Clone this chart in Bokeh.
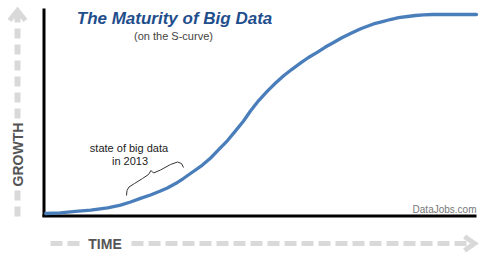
import math
from bokeh.plotting import figure
from bokeh.models import Range1d, Label
from bokeh.embed import file_html
from bokeh.resources import INLINE

# ---- data ----
time = [0.5, 3.9, 7.4, 10.9, 14.8, 17.8, 20.1, 22.4, 24.7, 27.0, 28.6, 30.5, 32.3, 34.6, 36.7,
        38.6, 40.4, 42.5, 44.3, 46.2, 47.8, 49.7, 51.7, 53.6, 55.4, 57.3, 59.4, 61.2, 63.3,
        65.1, 67.0, 68.8, 70.9, 73.4, 76.2, 78.3, 80.1, 82.0, 84.1, 85.9, 87.8, 89.8, 91.7, 100]
growth = [1.0, 1.3, 2.0, 2.7, 3.8, 5.2, 6.7, 8.5, 10.2, 12.2, 13.7, 15.9, 18.4, 21.9, 25.1,
          28.6, 32.6, 37.3, 42.0, 47.0, 52.0, 57.2, 61.9, 65.9, 69.4, 72.6, 75.9, 78.6, 81.3,
          83.8, 86.1, 88.3, 90.5, 93.0, 95.3, 96.5, 97.5, 98.4, 99.0, 99.5, 99.8, 100, 100, 100]

title = "The Maturity of Big Data"
subtitle = "(on the S-curve)"
note_lines = ["state of big data", "in 2013"]
x_label = "TIME"
y_label = "GROWTH"
credit = "DataJobs.com"

# ---- layout helpers (pixel -> data) ----
PXX, X0 = 4.33, 43.0
PXY, Y0 = 2.01, 215.0


def X(px):
    return (px - X0) / PXX


def Y(py):
    return (Y0 - py) / PXY


FONT = "Liberation Sans"

p = figure(width=489, height=258, x_range=Range1d(X(0), X(489)), y_range=Range1d(Y(258), Y(0)),
           output_backend="svg", toolbar_location=None, min_border=0)
p.xaxis.visible = False
p.yaxis.visible = False
p.grid.visible = False
p.outline_line_color = None
p.background_fill_color = "white"
p.border_fill_color = "white"

# gray dashed arrows
GRAY = "#d9d9d9"
p.line([X(17), X(17)], [Y(216), Y(190)], line_color=GRAY, line_width=6, line_dash="10 6")
p.line([X(17), X(17)], [Y(118), Y(22)], line_color=GRAY, line_width=6, line_dash="10 6")
p.line([X(9), X(17), X(25)], [Y(20), Y(10), Y(20)], line_color=GRAY, line_width=5, line_join="miter")
p.line([X(17), X(17)], [Y(22), Y(11)], line_color=GRAY, line_width=6)

p.line([X(50), X(80)], [Y(243), Y(243)], line_color=GRAY, line_width=5, line_dash="12 5")
p.line([X(131), X(468)], [Y(243), Y(243)], line_color=GRAY, line_width=5, line_dash="12 5")
p.line([X(464), X(474), X(464)], [Y(236), Y(243), Y(250)], line_color=GRAY, line_width=5, line_join="miter")

# axes lines
p.line([X(43.5), X(43.5)], [Y(8), Y(216.5)], line_color="black", line_width=3)
p.line([X(42), X(476)], [Y(215.5), Y(215.5)], line_color="black", line_width=3)

# S-curve
p.line(time, growth, line_color="#4a7ebb", line_width=3.3, line_join="round", line_cap="round")

# brace
bx = [126, 126.5, 128.5, 134, 142, 148, 150.5, 153, 160, 170, 177, 181, 183]
by = [195, 190, 186.5, 183, 178, 174, 170, 172.5, 169.5, 164, 161.5, 163, 167]
p.line([X(v) for v in bx], [Y(v) for v in by], line_color="#333333", line_width=1)

# texts
p.add_layout(Label(x=X(174), y=Y(18), text=title, text_font=FONT, text_font_size="17px",
                   text_font_style="bold italic", text_color="#1f4e8c",
                   text_align="center", text_baseline="middle"))
p.add_layout(Label(x=X(173), y=Y(35), text=subtitle, text_font=FONT, text_font_size="11px",
                   text_color="#444444", text_align="center", text_baseline="middle"))
p.add_layout(Label(x=X(128.5), y=Y(147), text=note_lines[0], text_font=FONT, text_font_size="11px",
                   text_color="#222222", text_align="center", text_baseline="middle"))
p.add_layout(Label(x=X(129.5), y=Y(160), text=note_lines[1], text_font=FONT, text_font_size="11px",
                   text_color="#222222", text_align="center", text_baseline="middle"))
p.add_layout(Label(x=X(104.5), y=Y(243), text=x_label, text_font=FONT, text_font_size="14px",
                   text_font_style="bold", text_color="#555555",
                   text_align="center", text_baseline="middle"))
p.add_layout(Label(x=X(17.5), y=Y(154), text=y_label, text_font=FONT, text_font_size="14px",
                   text_font_style="bold", text_color="#555555", angle=math.pi / 2,
                   text_align="center", text_baseline="middle"))
p.add_layout(Label(x=X(476), y=Y(209), text=credit, text_font=FONT, text_font_size="10px",
                   text_color="#777777", text_align="right", text_baseline="middle"))

open("out.html", "w").write(file_html(p, INLINE))
